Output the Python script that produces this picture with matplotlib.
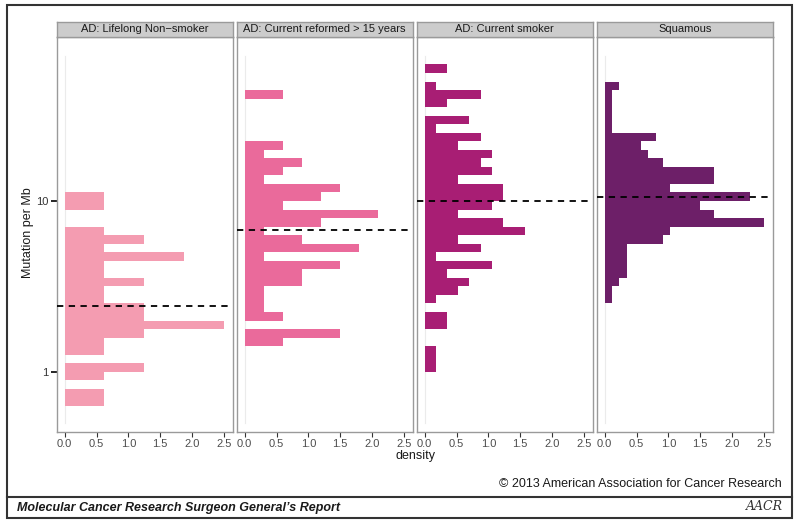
"""
plot.py - Histogram mutation per Mb theo nhom hut thuoc (4 panel).
Output: out.png
"""

import numpy as np
import matplotlib
matplotlib.use("Agg")
import matplotlib.pyplot as plt
from matplotlib.patches import Rectangle
from matplotlib.lines import Line2D

plt.rcParams["font.family"] = ["Liberation Sans", "DejaVu Sans"]

# ---- du lieu doc tu hinh ----
PANEL_TITLES = ["AD: Lifelong Non\u2212smoker", "AD: Current reformed > 15 years",
                "AD: Current smoker", "Squamous"]
PANEL_COLORS = ["#F49CB1", "#EA6A9B", "#A81E74", "#6D1F68"]
BIN_WIDTH = 0.05  # log10 units

# log10 cua canh duoi bin thap nhat, roi density tu duoi len tren
NONSMOKER_START = -0.20
NONSMOKER_DENS = [0.625, 0.625, 0, 0.625, 1.25, 0, 0.625, 0.625, 1.25, 2.5,
                  1.25, 1.25, 0.625, 0.625, 1.25, 0.625, 0.625, 1.875, 0.625,
                  1.25, 0.625, 0, 0, 0.625, 0.625]

REFORMED_START = 0.15
REFORMED_DENS = [0.6, 1.5, 0, 0.6, 0.3, 0.3, 0.3, 0.9, 0.9, 1.5, 0.3, 1.8,
                 0.9, 0.3, 1.2, 2.1, 0.6, 1.2, 1.5, 0.3, 0.6, 0.9, 0.3, 0.6,
                 0, 0, 0, 0, 0, 0.6]

SMOKER_START = 0.00
SMOKER_DENS = [0.175, 0.175, 0.175, 0, 0, 0.35, 0.35, 0, 0.175, 0.526, 0.70,
               0.35, 1.05, 0.175, 0.877, 0.526, 1.58, 1.23, 0.526, 1.05, 1.23,
               1.23, 0.526, 1.05, 0.877, 1.05, 0.526, 0.877, 0.175, 0.70, 0,
               0.35, 0.877, 0.175, 0, 0.35]

SQUAMOUS_START = 0.40
SQUAMOUS_DENS = [0.114, 0.114, 0.229, 0.343, 0.343, 0.343, 0.343, 0.914, 1.03,
                 2.51, 1.71, 1.49, 2.29, 1.03, 1.71, 1.71, 0.914, 0.686, 0.571,
                 0.80, 0.114, 0.114, 0.114, 0.114, 0.114, 0.229]

MEDIANS = [2.43, 6.8, 10.0, 10.6]
X_TICKS = [0.0, 0.5, 1.0, 1.5, 2.0, 2.5]
Y_TICKS = [1, 10]

PANELS = [(NONSMOKER_START, NONSMOKER_DENS), (REFORMED_START, REFORMED_DENS),
          (SMOKER_START, SMOKER_DENS), (SQUAMOUS_START, SQUAMOUS_DENS)]

W, H = 800, 525


def px(x, y, w, h):
    """Doi toa do pixel (tu goc tren trai) sang toa do figure."""
    return [x / W, 1 - (y + h) / H, w / W, h / H]


fig = plt.figure(figsize=(8, 5.25), dpi=100)

panel_w, gap = 176, 4
left0, top, bottom = 56.7, 36.7, 432
strip_h = 15

for i, ((start, dens), title, color, med) in enumerate(
        zip(PANELS, PANEL_TITLES, PANEL_COLORS, MEDIANS)):
    x0 = left0 + i * (panel_w + gap)
    ax = fig.add_axes(px(x0, top, panel_w, bottom - top))
    edges = 10 ** (start + BIN_WIDTH * np.arange(len(dens) + 1))
    ax.set_yscale("log")
    # duong nen mo o x=0 (cac bin rong)
    ax.plot([0, 0], [10 ** -0.30, 10 ** 1.85], color="#EBEBEB", lw=0.8, zorder=1)
    ax.stairs(dens, edges, orientation="horizontal", fill=True,
              color=color, baseline=0, zorder=2)
    ax.axhline(med, color="black", lw=1.3, ls=(0, (3.5, 3)), zorder=3)
    ax.set_xlim(-0.126, 2.64)
    ax.set_ylim(10 ** -0.353, 10 ** 1.9625)
    ax.set_xticks(X_TICKS)
    ax.set_xticklabels([f"{t:.1f}" for t in X_TICKS], fontsize=8, color="#4D4D4D")
    ax.tick_params(axis="x", length=3.5, width=0.8, color="#333333", pad=1.5)
    ax.yaxis.set_minor_locator(matplotlib.ticker.NullLocator())
    if i == 0:
        ax.set_yticks(Y_TICKS)
        ax.set_yticklabels([str(t) for t in Y_TICKS], fontsize=8, color="#333333")
        ax.tick_params(axis="y", length=4, width=1.2, color="black", pad=2)
    else:
        ax.set_yticks([])
    for s in ax.spines.values():
        s.set_color("#9A9A9A")
        s.set_linewidth(1.0)

    # strip tieu de panel
    sax = fig.add_axes(px(x0, top - strip_h, panel_w, strip_h))
    sax.set_facecolor("#CCCCCC")
    sax.set_xticks([])
    sax.set_yticks([])
    for s in sax.spines.values():
        s.set_color("#9A9A9A")
        s.set_linewidth(1.0)
    sax.text(0.5, 0.5, title, ha="center", va="center", fontsize=8,
             color="#1A1A1A", transform=sax.transAxes)

# nhan truc
fig.text(415 / W, 1 - 456 / H, "density", ha="center", va="center",
         fontsize=9, color="#1A1A1A")
fig.text(28 / W, 1 - 233 / H, "Mutation per Mb", ha="center", va="center",
         rotation=90, fontsize=9, color="#1A1A1A")

# khung ngoai + footer
fig.patches.append(Rectangle((6.5 / W, 1 - 518 / H), (791.7 - 6.5) / W,
                             (518 - 5) / H, transform=fig.transFigure,
                             fill=False, ec="#333333", lw=1.5))
fig.lines.append(Line2D([6.5 / W, 791.7 / W], [1 - 496.7 / H] * 2,
                        transform=fig.transFigure, color="#333333", lw=1.5))
fig.text(782 / W, 1 - 484 / H, "\u00a9 2013 American Association for Cancer Research",
         ha="right", va="center", fontsize=9, color="#1A1A1A")
fig.text(17 / W, 1 - 508 / H, "Molecular Cancer Research Surgeon General\u2019s Report",
         ha="left", va="center", fontsize=9, fontweight="bold", style="italic",
         color="#1A1A1A")
fig.text(783 / W, 1 - 507 / H, "AACR", ha="right", va="center", fontsize=9,
         family="DejaVu Serif", style="italic", color="#333333")

fig.savefig("out.png", dpi=100)
